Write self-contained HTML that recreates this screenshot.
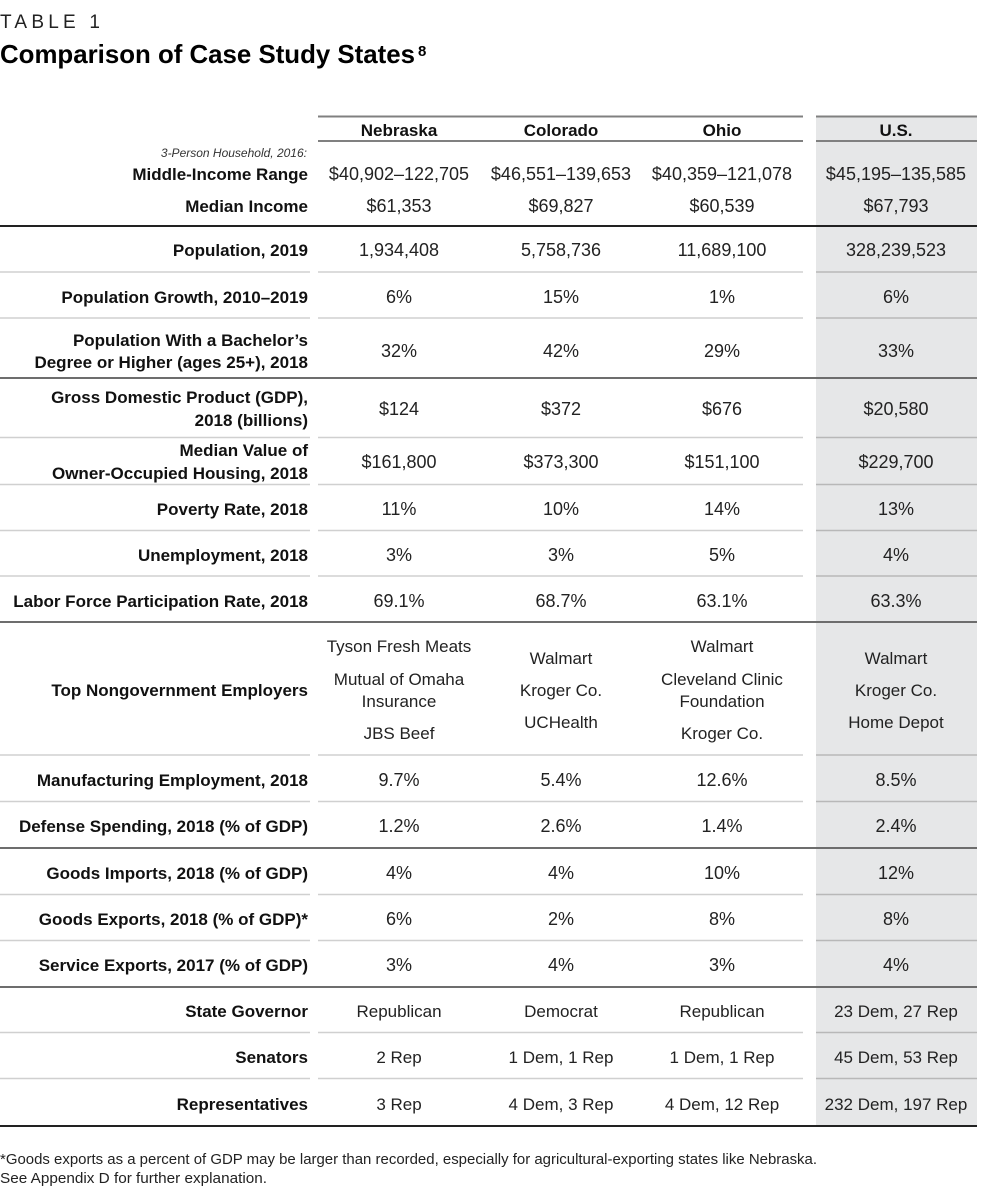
<!DOCTYPE html>
<html>
<head>
<meta charset="utf-8">
<style>
  html, body { margin: 0; padding: 0; background: #fff; }
  body { width: 1000px; height: 1201px; overflow: hidden; }
  svg { display: block; }
  text { font-family: "Liberation Sans", Arial, sans-serif; }
  .lab { font-weight: bold; font-size: 17px; fill: #111; text-anchor: end; }
  .hd { font-weight: bold; font-size: 17px; fill: #111; text-anchor: middle; }
  .num { font-size: 18px; fill: #222; text-anchor: middle; }
  .wd { font-size: 17px; fill: #222; text-anchor: middle; }
</style>
</head>
<body>
<svg width="1000" height="1201" viewBox="0 0 1000 1201" xmlns="http://www.w3.org/2000/svg">
  <rect x="0" y="0" width="1000" height="1201" fill="#fff"/>
  <!-- US gray column -->
  <rect x="816" y="116" width="161" height="1010" fill="#e6e7e8"/>

  <!-- Title -->
  <text x="0" y="28" font-size="19" fill="#222" textLength="100" lengthAdjust="spacing">TABLE 1</text>
  <text x="0" y="63" font-size="26" font-weight="bold" fill="#000" textLength="415" lengthAdjust="spacingAndGlyphs">Comparison of Case Study States</text>
  <text x="418" y="56" font-size="15" font-weight="bold" fill="#000">8</text>

  <!-- Header lines -->
  <g stroke="#808080" stroke-width="2">
    <line x1="318" y1="116.5" x2="803" y2="116.5"/>
    <line x1="816" y1="116.5" x2="977" y2="116.5"/>
    <line x1="318" y1="141" x2="803" y2="141"/>
    <line x1="816" y1="141" x2="977" y2="141"/>
  </g>

  <!-- Thin row lines -->
  <g stroke-width="1.5">
    <g stroke="#d0d0d0">
      <line x1="0" y1="272" x2="310" y2="272"/><line x1="318" y1="272" x2="803" y2="272"/>
      <line x1="0" y1="318" x2="310" y2="318"/><line x1="318" y1="318" x2="803" y2="318"/>
      <line x1="0" y1="437.5" x2="310" y2="437.5"/><line x1="318" y1="437.5" x2="803" y2="437.5"/>
      <line x1="0" y1="484.5" x2="310" y2="484.5"/><line x1="318" y1="484.5" x2="803" y2="484.5"/>
      <line x1="0" y1="530.5" x2="310" y2="530.5"/><line x1="318" y1="530.5" x2="803" y2="530.5"/>
      <line x1="0" y1="576" x2="310" y2="576"/><line x1="318" y1="576" x2="803" y2="576"/>
      <line x1="0" y1="755" x2="310" y2="755"/><line x1="318" y1="755" x2="803" y2="755"/>
      <line x1="0" y1="801.5" x2="310" y2="801.5"/><line x1="318" y1="801.5" x2="803" y2="801.5"/>
      <line x1="0" y1="894.5" x2="310" y2="894.5"/><line x1="318" y1="894.5" x2="803" y2="894.5"/>
      <line x1="0" y1="940.5" x2="310" y2="940.5"/><line x1="318" y1="940.5" x2="803" y2="940.5"/>
      <line x1="0" y1="1032.5" x2="310" y2="1032.5"/><line x1="318" y1="1032.5" x2="803" y2="1032.5"/>
      <line x1="0" y1="1078.5" x2="310" y2="1078.5"/><line x1="318" y1="1078.5" x2="803" y2="1078.5"/>
    </g>
    <g stroke="#b8b8b8">
      <line x1="816" y1="272" x2="977" y2="272"/>
      <line x1="816" y1="318" x2="977" y2="318"/>
      <line x1="816" y1="437.5" x2="977" y2="437.5"/>
      <line x1="816" y1="484.5" x2="977" y2="484.5"/>
      <line x1="816" y1="530.5" x2="977" y2="530.5"/>
      <line x1="816" y1="576" x2="977" y2="576"/>
      <line x1="816" y1="755" x2="977" y2="755"/>
      <line x1="816" y1="801.5" x2="977" y2="801.5"/>
      <line x1="816" y1="894.5" x2="977" y2="894.5"/>
      <line x1="816" y1="940.5" x2="977" y2="940.5"/>
      <line x1="816" y1="1032.5" x2="977" y2="1032.5"/>
      <line x1="816" y1="1078.5" x2="977" y2="1078.5"/>
    </g>
  </g>

  <!-- Thick lines -->
  <g stroke-width="2">
    <line x1="0" y1="226" x2="977" y2="226" stroke="#222"/>
    <line x1="0" y1="378" x2="977" y2="378" stroke="#6d6d6d"/>
    <line x1="0" y1="622" x2="977" y2="622" stroke="#6d6d6d"/>
    <line x1="0" y1="848" x2="977" y2="848" stroke="#6d6d6d"/>
    <line x1="0" y1="987" x2="977" y2="987" stroke="#6d6d6d"/>
    <line x1="0" y1="1126" x2="977" y2="1126" stroke="#222"/>
  </g>

  <!-- Column headers -->
  <text class="hd" x="399" y="136">Nebraska</text>
  <text class="hd" x="561" y="136">Colorado</text>
  <text class="hd" x="722" y="136">Ohio</text>
  <text class="hd" x="896" y="136">U.S.</text>

  <!-- Labels -->
  <text x="307" y="157" font-size="12" font-style="italic" fill="#333" text-anchor="end">3-Person Household, 2016:</text>
  <text class="lab" x="308" y="180">Middle-Income Range</text>
  <text class="lab" x="308" y="212">Median Income</text>
  <text class="lab" x="308" y="256">Population, 2019</text>
  <text class="lab" x="308" y="303">Population Growth, 2010–2019</text>
  <text class="lab" x="308" y="346">Population With a Bachelor’s</text>
  <text class="lab" x="308" y="368">Degree or Higher (ages 25+), 2018</text>
  <text class="lab" x="308" y="403">Gross Domestic Product (GDP),</text>
  <text class="lab" x="308" y="426">2018 (billions)</text>
  <text class="lab" x="308" y="456">Median Value of</text>
  <text class="lab" x="308" y="479">Owner-Occupied Housing, 2018</text>
  <text class="lab" x="308" y="515">Poverty Rate, 2018</text>
  <text class="lab" x="308" y="561">Unemployment, 2018</text>
  <text class="lab" x="308" y="607">Labor Force Participation Rate, 2018</text>
  <text class="lab" x="308" y="696">Top Nongovernment Employers</text>
  <text class="lab" x="308" y="786">Manufacturing Employment, 2018</text>
  <text class="lab" x="308" y="832">Defense Spending, 2018 (% of GDP)</text>
  <text class="lab" x="308" y="879">Goods Imports, 2018 (% of GDP)</text>
  <text class="lab" x="308" y="925">Goods Exports, 2018 (% of GDP)*</text>
  <text class="lab" x="308" y="971">Service Exports, 2017 (% of GDP)</text>
  <text class="lab" x="308" y="1017">State Governor</text>
  <text class="lab" x="308" y="1063">Senators</text>
  <text class="lab" x="308" y="1110">Representatives</text>

  <!-- Data: Middle-Income -->
  <text class="num" x="399" y="180">$40,902–122,705</text>
  <text class="num" x="561" y="180">$46,551–139,653</text>
  <text class="num" x="722" y="180">$40,359–121,078</text>
  <text class="num" x="896" y="180">$45,195–135,585</text>
  <!-- Median income -->
  <text class="num" x="399" y="212">$61,353</text>
  <text class="num" x="561" y="212">$69,827</text>
  <text class="num" x="722" y="212">$60,539</text>
  <text class="num" x="896" y="212">$67,793</text>
  <!-- Population -->
  <text class="num" x="399" y="256">1,934,408</text>
  <text class="num" x="561" y="256">5,758,736</text>
  <text class="num" x="722" y="256">11,689,100</text>
  <text class="num" x="896" y="256">328,239,523</text>
  <!-- Growth -->
  <text class="num" x="399" y="303">6%</text>
  <text class="num" x="561" y="303">15%</text>
  <text class="num" x="722" y="303">1%</text>
  <text class="num" x="896" y="303">6%</text>
  <!-- Bachelor -->
  <text class="num" x="399" y="357">32%</text>
  <text class="num" x="561" y="357">42%</text>
  <text class="num" x="722" y="357">29%</text>
  <text class="num" x="896" y="357">33%</text>
  <!-- GDP -->
  <text class="num" x="399" y="415">$124</text>
  <text class="num" x="561" y="415">$372</text>
  <text class="num" x="722" y="415">$676</text>
  <text class="num" x="896" y="415">$20,580</text>
  <!-- Median value -->
  <text class="num" x="399" y="468">$161,800</text>
  <text class="num" x="561" y="468">$373,300</text>
  <text class="num" x="722" y="468">$151,100</text>
  <text class="num" x="896" y="468">$229,700</text>
  <!-- Poverty -->
  <text class="num" x="399" y="515">11%</text>
  <text class="num" x="561" y="515">10%</text>
  <text class="num" x="722" y="515">14%</text>
  <text class="num" x="896" y="515">13%</text>
  <!-- Unemployment -->
  <text class="num" x="399" y="561">3%</text>
  <text class="num" x="561" y="561">3%</text>
  <text class="num" x="722" y="561">5%</text>
  <text class="num" x="896" y="561">4%</text>
  <!-- Labor -->
  <text class="num" x="399" y="607">69.1%</text>
  <text class="num" x="561" y="607">68.7%</text>
  <text class="num" x="722" y="607">63.1%</text>
  <text class="num" x="896" y="607">63.3%</text>
  <!-- Employers -->
  <text class="wd" x="399" y="652">Tyson Fresh Meats</text>
  <text class="wd" x="399" y="685">Mutual of Omaha</text>
  <text class="wd" x="399" y="707">Insurance</text>
  <text class="wd" x="399" y="739">JBS Beef</text>
  <text class="wd" x="561" y="664">Walmart</text>
  <text class="wd" x="561" y="696">Kroger Co.</text>
  <text class="wd" x="561" y="728">UCHealth</text>
  <text class="wd" x="722" y="652">Walmart</text>
  <text class="wd" x="722" y="685">Cleveland Clinic</text>
  <text class="wd" x="722" y="707">Foundation</text>
  <text class="wd" x="722" y="739">Kroger Co.</text>
  <text class="wd" x="896" y="664">Walmart</text>
  <text class="wd" x="896" y="696">Kroger Co.</text>
  <text class="wd" x="896" y="728">Home Depot</text>
  <!-- Manufacturing -->
  <text class="num" x="399" y="786">9.7%</text>
  <text class="num" x="561" y="786">5.4%</text>
  <text class="num" x="722" y="786">12.6%</text>
  <text class="num" x="896" y="786">8.5%</text>
  <!-- Defense -->
  <text class="num" x="399" y="832">1.2%</text>
  <text class="num" x="561" y="832">2.6%</text>
  <text class="num" x="722" y="832">1.4%</text>
  <text class="num" x="896" y="832">2.4%</text>
  <!-- Imports -->
  <text class="num" x="399" y="879">4%</text>
  <text class="num" x="561" y="879">4%</text>
  <text class="num" x="722" y="879">10%</text>
  <text class="num" x="896" y="879">12%</text>
  <!-- Exports -->
  <text class="num" x="399" y="925">6%</text>
  <text class="num" x="561" y="925">2%</text>
  <text class="num" x="722" y="925">8%</text>
  <text class="num" x="896" y="925">8%</text>
  <!-- Service -->
  <text class="num" x="399" y="971">3%</text>
  <text class="num" x="561" y="971">4%</text>
  <text class="num" x="722" y="971">3%</text>
  <text class="num" x="896" y="971">4%</text>
  <!-- Governor -->
  <text class="wd" x="399" y="1017">Republican</text>
  <text class="wd" x="561" y="1017">Democrat</text>
  <text class="wd" x="722" y="1017">Republican</text>
  <text class="wd" x="896" y="1017">23 Dem, 27 Rep</text>
  <!-- Senators -->
  <text class="wd" x="399" y="1063">2 Rep</text>
  <text class="wd" x="561" y="1063">1 Dem, 1 Rep</text>
  <text class="wd" x="722" y="1063">1 Dem, 1 Rep</text>
  <text class="wd" x="896" y="1063">45 Dem, 53 Rep</text>
  <!-- Representatives -->
  <text class="wd" x="399" y="1110">3 Rep</text>
  <text class="wd" x="561" y="1110">4 Dem, 3 Rep</text>
  <text class="wd" x="722" y="1110">4 Dem, 12 Rep</text>
  <text class="wd" x="896" y="1110">232 Dem, 197 Rep</text>

  <!-- Footnote -->
  <text x="0" y="1164" font-size="15" fill="#222" textLength="817" lengthAdjust="spacingAndGlyphs">*Goods exports as a percent of GDP may be larger than recorded, especially for agricultural-exporting states like Nebraska.</text>
  <text x="0" y="1183" font-size="15" fill="#222" textLength="267" lengthAdjust="spacingAndGlyphs">See Appendix D for further explanation.</text>
</svg>
</body>
</html>
